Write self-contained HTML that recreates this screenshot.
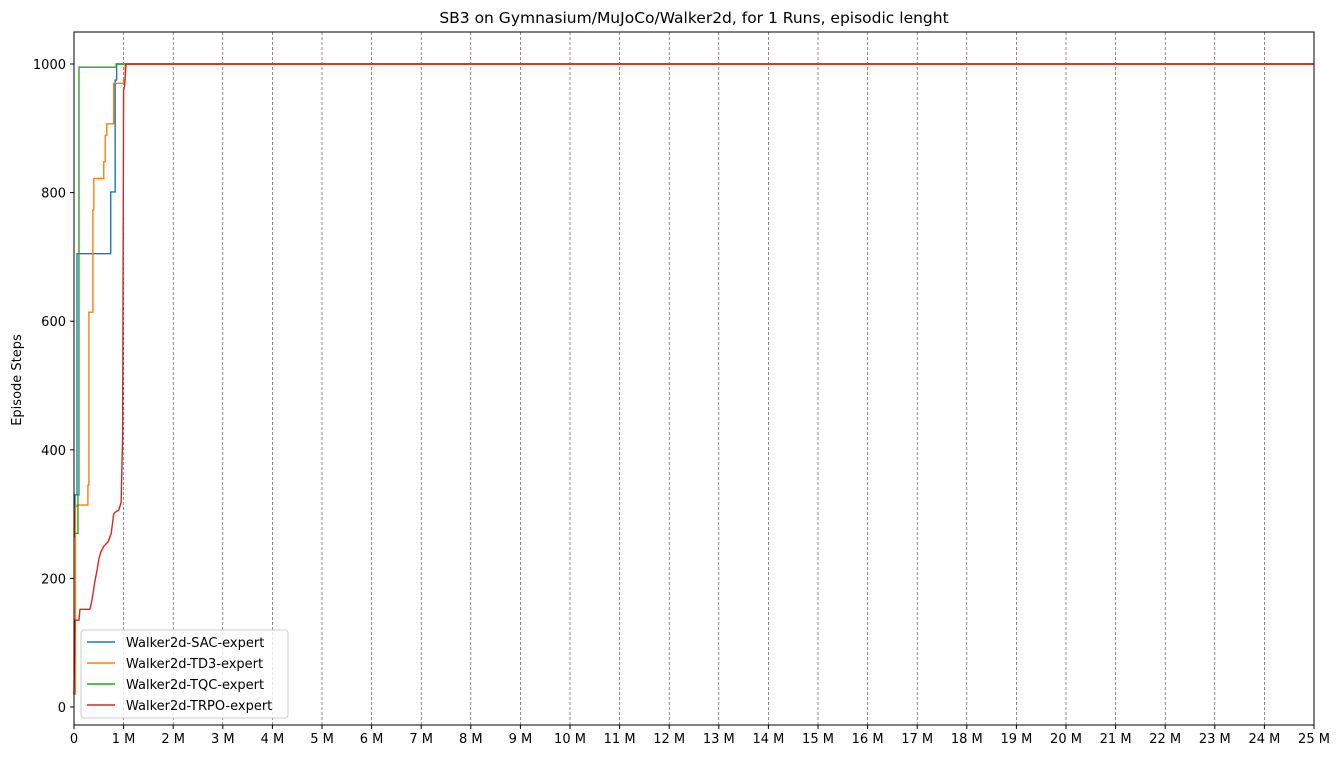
<!DOCTYPE html>
<html><head><meta charset="utf-8"><style>
body{margin:0;background:#fff;font-family:"Liberation Sans","DejaVu Sans",sans-serif}
svg text{font-family:"DejaVu Sans","Liberation Sans",sans-serif;font-size:13px;fill:#000}
</style></head><body>
<svg id="c" width="1341" height="759"></svg>
<script>
const xTicks=[0,1,2,3,4,5,6,7,8,9,10,11,12,13,14,15,16,17,18,19,20,21,22,23,24,25];
const yTicks=[0,200,400,600,800,1000];
const seriesNames=["Walker2d-SAC-expert","Walker2d-TD3-expert","Walker2d-TQC-expert","Walker2d-TRPO-expert"];
const colors=["#1f77b4","#ff7f0e","#2ca02c","#d62728"];
const sacX=[0,0.02,0.06,0.74,0.83,0.86,25];
const sacY=[265,330,705,801,975,1000,1000];
const td3X=[0,0.03,0.06,0.28,0.3,0.38,0.4,0.6,0.63,0.66,0.8,1.0,1.03,25];
const td3Y=[20,312,314,345,614,773,822,848,889,907,970,975,1000,1000];
const tqcX=[0,0.08,0.1,0.85,25];
const tqcY=[270,330,995,1000,1000];
const trpoX=[0,0.02,0.1,0.12,0.32,0.36,0.42,0.47,0.5,0.54,0.6,0.69,0.75,0.8,0.83,0.9,0.95,0.98,1.0,1.02,1.05,25];
const trpoY=[20,135,135,152,152,165,195,215,230,241,250,257,270,300,303,306,318,420,960,965,1000,1000];
const seriesX=[sacX,td3X,tqcX,trpoX],seriesY=[sacY,td3Y,tqcY,trpoY];
const stepped=[true,true,true,false];
const L=74,R=1314,T=32,B=725;
const xs=v=>L+v*(R-L)/25;
const ys=v=>707-v*0.643;
const svg=document.getElementById('c');
const NS="http://www.w3.org/2000/svg";
function mk(t,a,p){const e=document.createElementNS(NS,t);for(const k in a)e.setAttribute(k,a[k]);(p||svg).appendChild(e);return e;}
let e;
xTicks.forEach(t=>{
 const x=xs(t);
 if(t>0&&t<25){e=mk('line',{x1:x,x2:x,y1:T,y2:B,stroke:'#444','stroke-width':0.6,'stroke-dasharray':'3,2'});
 
 }
 mk('line',{x1:x,x2:x,y1:B,y2:B+4,stroke:'#000'});
 e=mk('text',{x:x,y:B+18,'text-anchor':'middle'});e.textContent=t===0?'0':t+' M';
 
 
});
yTicks.forEach(t=>{
 const y=ys(t);
 mk('line',{x1:L-4,x2:L,y1:y,y2:y,stroke:'#000'});
 e=mk('text',{x:L-8,y:y+5,'text-anchor':'end'});e.textContent=t;
 
 
});
seriesX.forEach((X,i)=>{
 let d='M'+xs(X[0])+','+ys(seriesY[i][0]);
 for(let j=1;j<X.length;j++){
  if(stepped[i]) d+=' L'+xs(X[j])+','+ys(seriesY[i][j-1]);
  d+=' L'+xs(X[j])+','+ys(seriesY[i][j]);
 }
 e=mk('path',{d:d,fill:'none',stroke:colors[i],'stroke-width':1.4});
 
 
});
mk('rect',{x:L,y:T,width:R-L,height:B-T,fill:'none',stroke:'#000','stroke-width':1});
e=mk('text',{x:(L+R)/2,y:23,'text-anchor':'middle',style:'font-size:15.5px'});e.textContent='SB3 on Gymnasium/MuJoCo/Walker2d, for 1 Runs, episodic lenght';


e=mk('text',{x:21,y:380,'text-anchor':'middle',transform:'rotate(-90 21 380)'});e.textContent='Episode Steps';


const lg=mk('g',{});


mk('rect',{x:81,y:630,width:207,height:88,rx:3,fill:'#fff','fill-opacity':0.8,stroke:'#ccc'},lg);
seriesNames.forEach((n,i)=>{
 const y=642+i*21;
 mk('line',{x1:87,x2:115,y1:y,y2:y,stroke:colors[i],'stroke-width':1.5},lg);
 e=mk('text',{x:126,y:y+5},lg);e.textContent=n;
 
 
});
</script>
</body></html>
